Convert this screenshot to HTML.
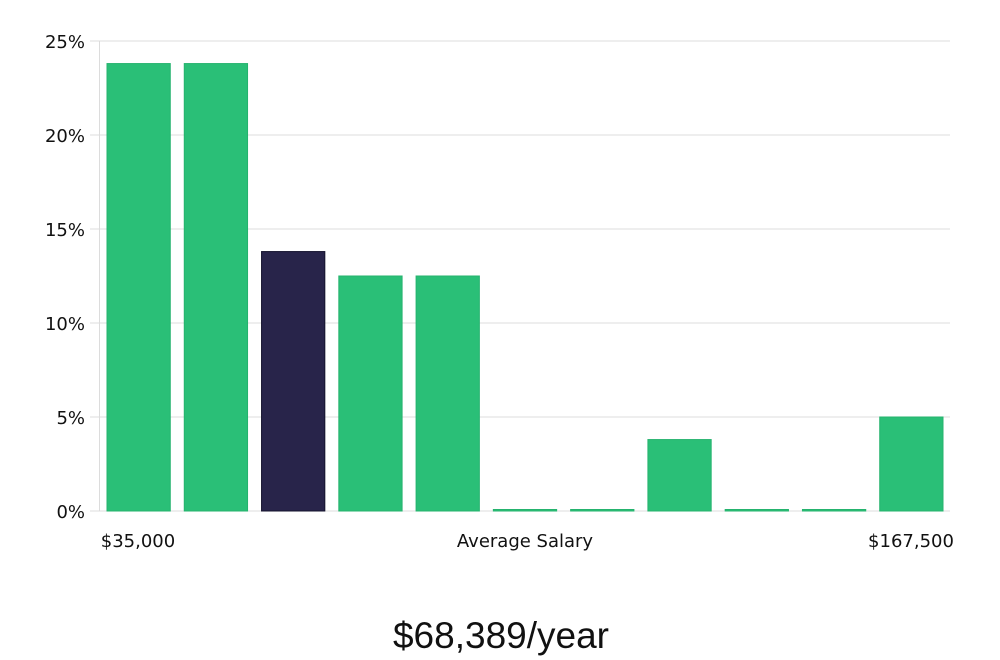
<!DOCTYPE html>
<html><head><meta charset="utf-8"><style>
body{margin:0;background:#fff;width:1000px;height:660px;overflow:hidden}
svg{display:block}
text{font-family:"DejaVu Sans","Liberation Sans",sans-serif;fill:#111}
</style></head><body>
<svg id="chart" width="1000" height="660">
<g id="grid"></g><g id="bars"></g><g id="axes"></g>
<text x="138" y="547" font-size="18" text-anchor="middle">$35,000</text>
<text x="525" y="547" font-size="18" text-anchor="middle">Average Salary</text>
<text x="911" y="547" font-size="18" text-anchor="middle">$167,500</text>
<text x="501" y="648" font-size="37" text-anchor="middle" style="font-family:'Liberation Sans',sans-serif">$68,389/year</text>
</svg>
<script>
const categories=["b1","b2","b3","b4","b5","b6","b7","b8","b9","b10","b11"];
const values=[23.8,23.8,13.8,12.5,12.5,0,0,3.8,0,0,5.0];
const highlight=[false,false,true,false,false,false,false,false,false,false,false];
const yTicks=[0,5,10,15,20,25];
const yTickLabels=["0%","5%","10%","15%","20%","25%"];
const NS="http://www.w3.org/2000/svg";
const x0=100,x1=950,yBase=511,yTop=41,yMax=25;
const y=v=>yBase-(v/yMax)*(yBase-yTop);
const band=(x1-x0)/categories.length;
const xb=i=>x0+i*band+7;
const bw=band-14;
function mk(t,a,p){const e=document.createElementNS(NS,t);for(const k in a)e.setAttribute(k,a[k]);p.appendChild(e);return e;}
const grid=document.getElementById('grid'),bars=document.getElementById('bars'),axes=document.getElementById('axes');
yTicks.forEach((t,i)=>{
 const l=mk('line',{x1:90,x2:950,y1:y(t),y2:y(t),stroke:'#dcdcdc','stroke-width':1},grid);
 
 
 const tx=mk('text',{x:85,y:y(t)+7,'font-size':18,'text-anchor':'end'},axes);
 tx.textContent=yTickLabels[i];
 
 
});
const ax=mk('line',{x1:99.5,x2:99.5,y1:yTop,y2:yBase,stroke:'#dcdcdc','stroke-width':1},axes);


values.forEach((v,i)=>{
 const h=Math.max(yBase-y(v),1.5);
 const r=mk('rect',{x:xb(i),y:yBase-h,width:bw,height:h,fill:highlight[i]?'#28244a':'#2abf77',stroke:highlight[i]?'#15132e':'#25b36e','stroke-width':1},bars);
 
 
});
</script>
</body></html>
